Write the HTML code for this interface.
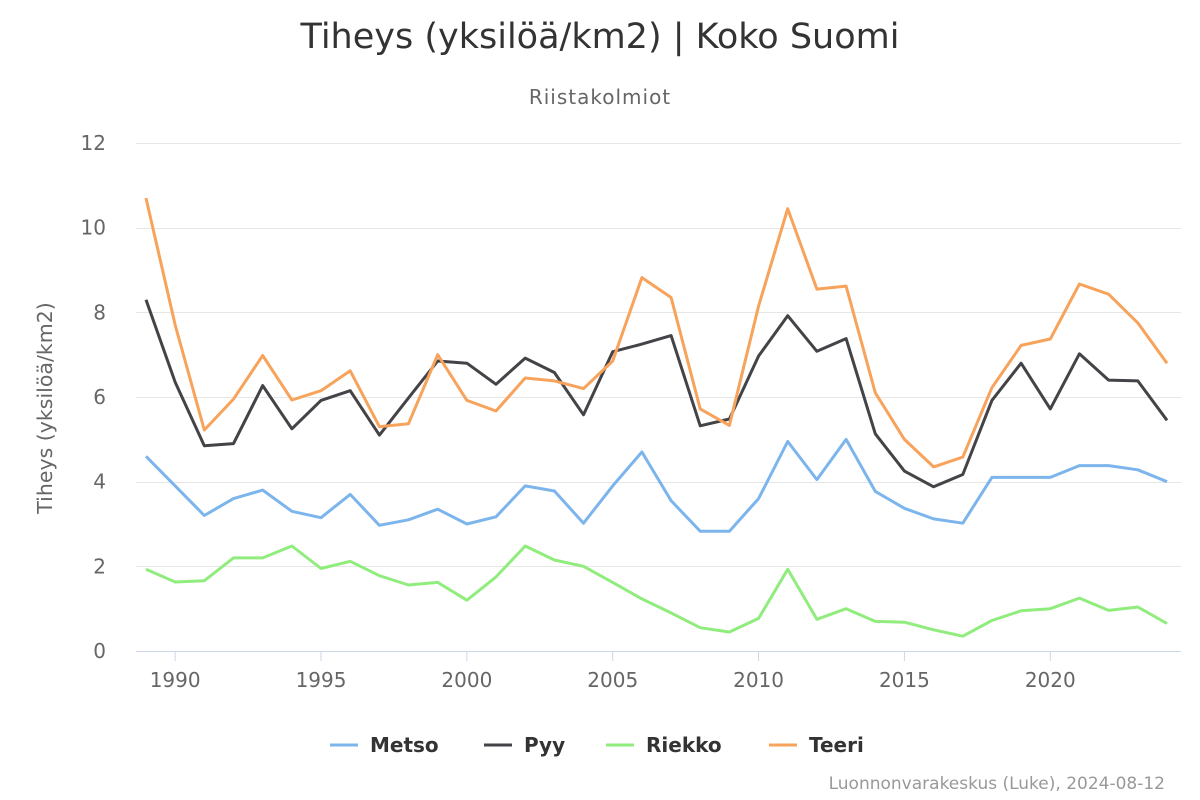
<!DOCTYPE html>
<html><head><meta charset="utf-8"><style>
body{margin:0;background:#fff;}
svg{display:block;font-family:"DejaVu Sans","Liberation Sans",sans-serif;}
</style></head><body>
<svg id="c" width="1200" height="800" xmlns="http://www.w3.org/2000/svg">
<rect width="1200" height="800" fill="#fff"/>
<text x="600" y="48" text-anchor="middle" font-size="35" fill="#333">Tiheys (yksilöä/km2) | Koko Suomi</text>
<text x="600" y="104" text-anchor="middle" font-size="20" letter-spacing="1" fill="#666">Riistakolmiot</text>
<text transform="translate(52,408) rotate(-90)" text-anchor="middle" font-size="20.5" fill="#666">Tiheys (yksilöä/km2)</text>
<g id="grid"></g>
<g id="series"></g>
<g font-size="20" font-weight="bold" fill="#333">
<line x1="330" y1="745" x2="358" y2="745" stroke="#7cb5ec" stroke-width="3"/><text x="370" y="752">Metso</text>
<line x1="484" y1="745" x2="512" y2="745" stroke="#434348" stroke-width="3"/><text x="524" y="752">Pyy</text>
<line x1="606" y1="745" x2="634" y2="745" stroke="#90ed7d" stroke-width="3"/><text x="646" y="752">Riekko</text>
<line x1="769" y1="745" x2="797" y2="745" stroke="#f7a35c" stroke-width="3"/><text x="809" y="752">Teeri</text>
</g>
<text x="1165" y="789" text-anchor="end" font-size="17" fill="#999">Luonnonvarakeskus (Luke), 2024-08-12</text>
</svg>
<script>
const X=y=>146+(y-1989)*29.17, Y=v=>651-v*42.33;
let g=document.getElementById('grid'),h='';
for(let v=0;v<=12;v+=2){h+=`<line x1="136" y1="${(Y(v)).toFixed(0)}.5" x2="1181" y2="${(Y(v)).toFixed(0)}.5" stroke="#e6e6e6"/><text x="106" y="${Y(v)+7}" text-anchor="end" font-size="20" fill="#666">${v}</text>`;}
h+=`<line x1="136" y1="651.5" x2="1181" y2="651.5" stroke="#ccd6eb" stroke-width="1"/>`;
for(let y=1990;y<=2020;y+=5){h+=`<line x1="${X(y)}" y1="651" x2="${X(y)}" y2="661" stroke="#ccd6eb"/><text x="${X(y)}" y="687" text-anchor="middle" font-size="20" fill="#666">${y}</text>`;}
g.innerHTML=h;
const d={
"#7cb5ec":[4.6,3.9,3.2,3.6,3.8,3.3,3.15,3.7,2.97,3.1,3.35,3.0,3.17,3.9,3.78,3.02,3.9,4.7,3.55,2.83,2.83,3.6,4.95,4.05,5.0,3.77,3.37,3.12,3.02,4.1,4.1,4.1,4.38,4.38,4.28,4.0],
"#434348":[8.3,6.35,4.85,4.9,6.27,5.25,5.92,6.15,5.1,5.98,6.85,6.8,6.3,6.92,6.58,5.58,7.07,7.25,7.45,5.32,5.48,6.97,7.92,7.08,7.38,5.13,4.25,3.88,4.17,5.92,6.8,5.72,7.02,6.4,6.38,5.45],
"#90ed7d":[1.93,1.63,1.66,2.2,2.2,2.48,1.95,2.12,1.78,1.56,1.62,1.2,1.75,2.48,2.15,2.0,1.62,1.23,0.9,0.55,0.45,0.77,1.93,0.75,1.0,0.7,0.68,0.5,0.35,0.72,0.95,1.0,1.25,0.96,1.04,0.65],
"#f7a35c":[10.7,7.7,5.22,5.95,6.98,5.93,6.15,6.62,5.3,5.37,7.0,5.92,5.67,6.45,6.38,6.2,6.85,8.82,8.35,5.72,5.33,8.15,10.45,8.55,8.62,6.1,5.0,4.35,4.58,6.22,7.22,7.37,8.67,8.43,7.75,6.8]};
let s='';
for(const c in d){s+=`<polyline fill="none" stroke="${c}" stroke-width="3" stroke-linejoin="round" points="${d[c].map((v,i)=>X(1989+i).toFixed(1)+','+Y(v).toFixed(1)).join(' ')}"/>`;}
document.getElementById('series').innerHTML=s;
</script>
</body></html>
